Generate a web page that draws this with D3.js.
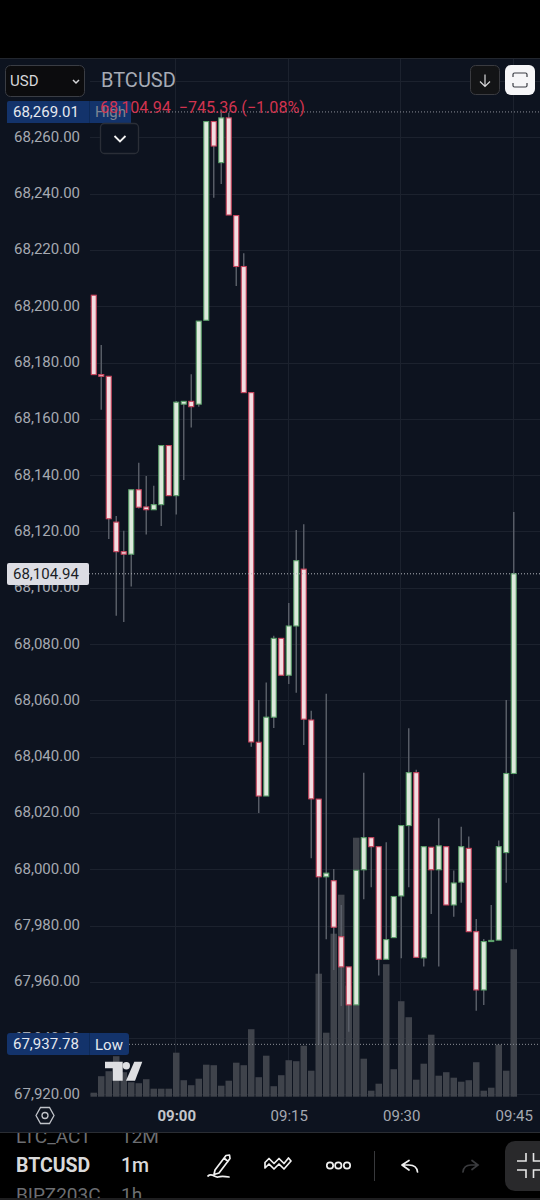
<!DOCTYPE html>
<html><head><meta charset="utf-8">
<style>html,body{margin:0;padding:0;background:#000;}svg{display:block;}text{font-family:Roboto,"Liberation Sans",sans-serif;}</style>
<script src="https://cdn.jsdelivr.net/npm/d3@7/dist/d3.min.js"></script>
</head><body>
<script>
const opens=[68203.9,68175.7,68175.1,68123.3,68112.8,68111.9,68134.8,68128.7,68127.7,68129.5,68150.5,68132.7,68165.2,68166.2,68165.2,68195.0,68265.6,68251.0,68266.9,68232.2,68214.1,68169.3,68045.1,68026.0,68054.0,68082.0,68068.9,68086.4,68106.6,68053.0,68024.9,67997.3,67995.9,67976.0,67965.3,67951.8,67999.8,68011.2,68008.0,67968.0,67975.7,67990.5,68015.5,68034.3,67968.5,68007.8,67999.8,68008.0,67987.3,67995.4,68007.4,67977.8,67957.1,67974.3,67974.8,68005.9,68034.0];
const highs=[68203.9,68186.2,68175.1,68125.5,68120.2,68134.8,68144.4,68139.7,68136.2,68150.5,68150.5,68166.3,68166.2,68175.8,68194.7,68265.6,68265.6,68269.01,68268.7,68232.2,68218.8,68169.3,68060.1,68066.3,68082.9,68082.0,68094.6,68120.5,68122.5,68056.3,68024.9,68062.3,68000.1,67987.3,67965.3,67999.6,68034.3,68011.2,68008.0,68009.6,67990.3,68015.5,68050.1,68035.3,68008.0,68007.8,68018.1,68008.0,67999.5,68015.1,68011.6,67982.3,67975.2,67987.3,68010.2,68060.1,68126.9];
const lows=[68175.7,68163.2,68117.3,68090.0,68087.8,68100.4,68128.1,68118.9,68127.7,68121.9,68132.7,68126.0,68138.3,68156.9,68164.3,68195.0,68238.5,68243.4,68232.4,68207.2,68169.3,68043.5,68020.0,68026.0,68050.2,68068.9,68065.8,68062.7,68044.1,68003.9,67937.78,67975.1,67964.2,67951.4,67942.3,67951.8,67989.3,67993.6,67962.2,67968.0,67975.7,67968.4,67993.6,67968.7,67965.4,67984.1,67965.4,67987.3,67983.1,67988.1,67977.8,67949.7,67951.8,67974.3,67974.8,67995.2,68034.0];
const closes=[68175.7,68175.1,68124.5,68112.8,68111.9,68134.8,68128.6,68127.7,68129.5,68150.5,68132.7,68165.9,68166.2,68164.3,68194.7,68265.6,68256.9,68266.9,68232.4,68214.1,68169.3,68045.2,68026.0,68054.0,68082.0,68068.9,68086.4,68109.6,68053.3,68025.0,67997.3,67998.6,67979.4,67965.3,67951.8,67999.6,68011.2,68008.0,67968.0,67975.0,67990.3,68015.5,68034.3,67968.7,68008.0,67999.8,68008.3,67987.3,67995.1,68008.0,67977.8,67957.1,67974.3,67974.7,68008.0,68034.0,68104.94];
const volumes=[4,20.5,25.5,40.5,24.5,14.5,13.5,17.5,8,8,8,44,16.5,11.5,18,32,31.5,11,16,34,31.5,67.5,19.5,41,10.5,21.5,36.5,35.5,51,26,123,64,163,202,111,259,38,6,13,132.5,27.5,95.5,79.5,17,33,62,21,24.5,19,15,16.5,34.5,6,9,52,26,147.5];
const priceTicks=[68260,68240,68220,68200,68180,68160,68140,68120,68100,68080,68060,68040,68020,68000,67980,67960,67940,67920];
const timeLabels=["09:00","09:15","09:30","09:45"];
const timeIndex=[11,26,41,56];
const lastPrice=68104.94, highPrice=68269.01, lowPrice=67937.78;
const headerText="68,104.94  \u2212745.36 (\u22121.08%)";

const W=540,H=1200,BG="#0d131f",GRID="#1c222e";
const svg=d3.select("body").append("svg").attr("width",W).attr("height",H);
svg.append("rect").attr("width",W).attr("height",H).attr("fill","#000");
svg.append("rect").attr("y",58).attr("width",W).attr("height",1075).attr("fill",BG);
svg.append("line").attr("x1",0).attr("x2",W).attr("y1",58.5).attr("y2",58.5).attr("stroke","#22262e");
svg.append("line").attr("x1",0).attr("x2",W).attr("y1",1132.5).attr("y2",1132.5).attr("stroke","#2a2d33");

const x=d3.scaleLinear().domain([0,56]).range([93.75,513.75]);
const y=d3.scaleLinear().domain([68260,67920]).range([137.3,1094.4]);
const v=d3.scaleLinear().domain([0,300]).range([1096.7,796.7]);
const fmt=d3.format(",.2f");

// grid
const grid=svg.append("g");
grid.selectAll("line.h").data(d3.range(67920,68281,20)).join("line")
  .attr("x1",90).attr("x2",W).attr("y1",d=>Math.round(y(d))+.5).attr("y2",d=>Math.round(y(d))+.5).attr("stroke",GRID);
grid.selectAll("line.v").data(timeIndex).join("line")
  .attr("x1",d=>Math.round(x(d))-.5+0).attr("x2",d=>Math.round(x(d))-.5).attr("y1",59).attr("y2",1097).attr("stroke",GRID);

// price axis
const ay=svg.append("g").attr("transform","translate(80,0)")
  .call(d3.axisLeft(y).tickValues(priceTicks).tickFormat(fmt).tickSize(0).tickPadding(0));
ay.select(".domain").remove();
ay.selectAll("text").attr("fill","#a5a9b1").attr("font-size",15).attr("dy","0.27em").attr("font-family","Roboto");

// time axis
const ax=svg.append("g").attr("transform","translate(0,1108)")
  .call(d3.axisBottom(x).tickValues(timeIndex).tickFormat((d,i)=>timeLabels[i]).tickSize(0).tickPadding(0));
ax.select(".domain").remove();
ax.selectAll("text").attr("fill",(d,i)=>i==0?"#c4c6cb":"#a5a9b1").attr("font-size",15).attr("font-weight",(d,i)=>i==0?700:400).attr("font-family","Roboto");
ax.selectAll("text").attr("y",2).attr("dy","0.71em");

// volume
svg.append("g").selectAll("rect").data(volumes).join("rect")
  .attr("x",(d,i)=>x(i)-3.25).attr("width",6.5).attr("y",d=>v(d)).attr("height",d=>v(0)-v(d)).attr("fill","#3f434b");

// dotted price lines
function dotted(p,x0,col){svg.append("line").attr("x1",x0).attr("x2",W).attr("y1",y(p)).attr("y2",y(p)).attr("stroke",col).attr("stroke-width",1).attr("stroke-dasharray","1 2");}

// candles
const idx=d3.range(opens.length);
const c=svg.append("g");
c.selectAll("line").data(idx).join("line")
  .attr("x1",i=>x(i)).attr("x2",i=>x(i)).attr("y1",i=>y(highs[i])).attr("y2",i=>y(lows[i]))
  .attr("stroke","#5c616b").attr("stroke-width",1.4);
dotted(highPrice,130,"#8b8f97");dotted(lastPrice,89,"#b0b3ba");dotted(lowPrice,129,"#8b8f97");
c.selectAll("rect").data(idx).join("rect")
  .attr("x",i=>x(i)-2.5).attr("width",5)
  .attr("y",i=>y(Math.max(opens[i],closes[i]))).attr("height",i=>Math.max(.6,Math.abs(y(opens[i])-y(closes[i]))))
  .attr("fill",i=>closes[i]>=opens[i]?"#dde9dc":"#f3dde1")
  .attr("stroke",i=>closes[i]>=opens[i]?"#5a9f69":"#c9445c").attr("stroke-width",1.1);

// logo
const logo=svg.append("g").attr("fill","#dedfe2");
logo.append("path").attr("d","M105 1061.7H122.7V1080.7H112.7V1068.3H105Z");
logo.append("circle").attr("cx",126.3).attr("cy",1065.7).attr("r",3.7);
logo.append("path").attr("d","M134.3 1061.7H142.3L135 1080.7H126Z");

// high label
svg.append("path").attr("d","M7 103a2 2 0 0 1 2-2H129a2 2 0 0 1 2 2V123H7Z").attr("fill","#13336b");
svg.append("line").attr("x1",89.5).attr("x2",89.5).attr("y1",101).attr("y2",123).attr("stroke","#0d2a58");
svg.append("text").attr("x",13).attr("y",116.5).attr("font-size",15).attr("fill","#e6e9ef").text(fmt(highPrice));
svg.append("text").attr("x",95).attr("y",117).attr("font-size",15).attr("fill","#7d8493").text("High");
svg.append("text").attr("x",100).attr("y",112.5).attr("font-size",16.1).attr("fill","#d2334f").style("white-space","pre").text(headerText);
// chevron button
svg.append("rect").attr("x",100.5).attr("y",123.5).attr("width",38).attr("height",30).attr("rx",4).attr("fill",BG).attr("stroke","#2a2e37").attr("stroke-width",1.3);
svg.append("path").attr("d","M114.5 136l5.5 5.5 5.5-5.5").attr("fill","none").attr("stroke","#f2f2f2").attr("stroke-width",1.8);

// current price label
svg.append("rect").attr("x",7).attr("y",563).attr("width",82).attr("height",22).attr("rx",2).attr("fill","#dcdde4");
svg.append("text").attr("x",13).attr("y",578.5).attr("font-size",15).attr("fill","#1a1d26").text(fmt(lastPrice));

// low label
svg.append("rect").attr("x",7).attr("y",1033).attr("width",122).attr("height",22).attr("rx",3).attr("fill","#13336b");
svg.append("line").attr("x1",89.5).attr("x2",89.5).attr("y1",1033).attr("y2",1055).attr("stroke","#0d2a58");
svg.append("text").attr("x",13).attr("y",1049).attr("font-size",15).attr("fill","#e6e9ef").text(fmt(lowPrice));
svg.append("text").attr("x",95).attr("y",1050).attr("font-size",15).attr("fill","#e6e9ef").text("Low");

// header
svg.append("rect").attr("x",5.5).attr("y",65.5).attr("width",79).attr("height",31).attr("rx",5).attr("fill","#0c0c0e").attr("stroke","#3a3d44");
svg.append("text").attr("x",10).attr("y",86).attr("font-size",15).attr("fill","#d6d7da").text("USD");
svg.append("path").attr("d","M73 80l3 3 3-3").attr("fill","none").attr("stroke","#d6d7da").attr("stroke-width",1.5);
svg.append("text").attr("x",101).attr("y",87).attr("font-size",20).attr("fill","#a6abb5").text("BTCUSD");
svg.append("rect").attr("x",470.5).attr("y",65.5).attr("width",29).attr("height",29).attr("rx",5).attr("fill","#131416").attr("stroke","#3a3b40");
svg.append("path").attr("d","M485 74.5V86M480 81.5l5 5 5-5").attr("fill","none").attr("stroke","#d8d8da").attr("stroke-width",1.2);
svg.append("rect").attr("x",505).attr("y",65).attr("width",30).attr("height",30).attr("rx",6).attr("fill","#f6f6f8");
svg.append("path").attr("d","M513 77v-2.5a1.5 1.5 0 0 1 1.5-1.5h11a1.5 1.5 0 0 1 1.5 1.5v2.5M513 83v2.5a1.5 1.5 0 0 0 1.5 1.5h11a1.5 1.5 0 0 0 1.5-1.5v-2.5").attr("fill","none").attr("stroke","#3a3d44").attr("stroke-width",1.2);

// settings hex
svg.append("path").attr("d","M36 1115.5l4.5-8h9l4.5 8-4.5 8h-9Z").attr("fill","none").attr("stroke","#c0c3c9").attr("stroke-width",1.3);
svg.append("circle").attr("cx",45).attr("cy",1115.5).attr("r",3).attr("fill","none").attr("stroke","#c0c3c9").attr("stroke-width",1.3);

// bottom toolbar clipped rows
const defs=svg.append("defs");
defs.append("clipPath").attr("id","tb").append("rect").attr("x",0).attr("y",1133).attr("width",W).attr("height",65);
const tb=svg.append("g").attr("clip-path","url(#tb)");
tb.append("text").attr("x",16).attr("y",1143).attr("font-size",19).attr("fill","#6c6e72").text("LTC_ACT");
tb.append("text").attr("x",121).attr("y",1143).attr("font-size",19).attr("fill","#6c6e72").text("12M");
tb.append("text").attr("x",16).attr("y",1172).attr("font-size",19.5).attr("font-weight",700).attr("fill","#d9d9da").text("BTCUSD");
tb.append("text").attr("x",121).attr("y",1172).attr("font-size",19.5).attr("font-weight",500).attr("fill","#d9d9da").text("1m");
tb.append("text").attr("x",16).attr("y",1201).attr("font-size",19).attr("fill","#6c6e72").text("BIPZ203C");
tb.append("text").attr("x",121).attr("y",1201).attr("font-size",19).attr("fill","#6c6e72").text("1h");
svg.append("rect").attr("x",0).attr("y",1198).attr("width",W).attr("height",2).attr("fill","#1e1e20");

const ic=svg.append("g").attr("fill","none").attr("stroke","#f0f0f0").attr("stroke-width",1.7).attr("stroke-linecap","round").attr("stroke-linejoin","round");
// pen
ic.append("path").attr("d","M215 1170l11-14.5 3.5-.5 0 0 .5 3.5-11 14.5-5 1.5ZM224 1158l4 3.5");
ic.append("path").attr("d","M208 1176c4-3.5 7 2 10 1s5-1 11 0");
// trend
ic.append("path").attr("d","M265 1168l4-4 5 5 5-5 5 5 7-8-2.5-3-4.5 5.5-5-5-5 5-5-5-4 4Z").attr("stroke-width",1.7);
// dots
[330,338.3,347].forEach(c=>ic.append("circle").attr("cx",c).attr("cy",1165.5).attr("r",3.2));
// separator
svg.append("line").attr("x1",374.5).attr("x2",374.5).attr("y1",1151).attr("y2",1181).attr("stroke","#38393c");
// undo
ic.append("path").attr("d","M409 1160.5l-7 4.5 7 5M402 1165h7c5 0 8 2 8.5 7");
// redo
svg.append("path").attr("d","M472 1160.5l6 4.5-6 4.5M478 1165h-7c-5 0-7.5 2-8 7").attr("fill","none").attr("stroke","#3a3b3e").attr("stroke-width",1.7).attr("stroke-linecap","round");
// collapse button
svg.append("rect").attr("x",505).attr("y",1141).attr("width",60).attr("height",50).attr("rx",10).attr("fill","#29292b");
svg.append("path").attr("d","M526 1153v8h-9M533.5 1153v8h7M526 1178v-8h-9M533.5 1178v-8h7").attr("fill","none").attr("stroke","#e6e6e6").attr("stroke-width",1.6);
</script>
</body></html>
